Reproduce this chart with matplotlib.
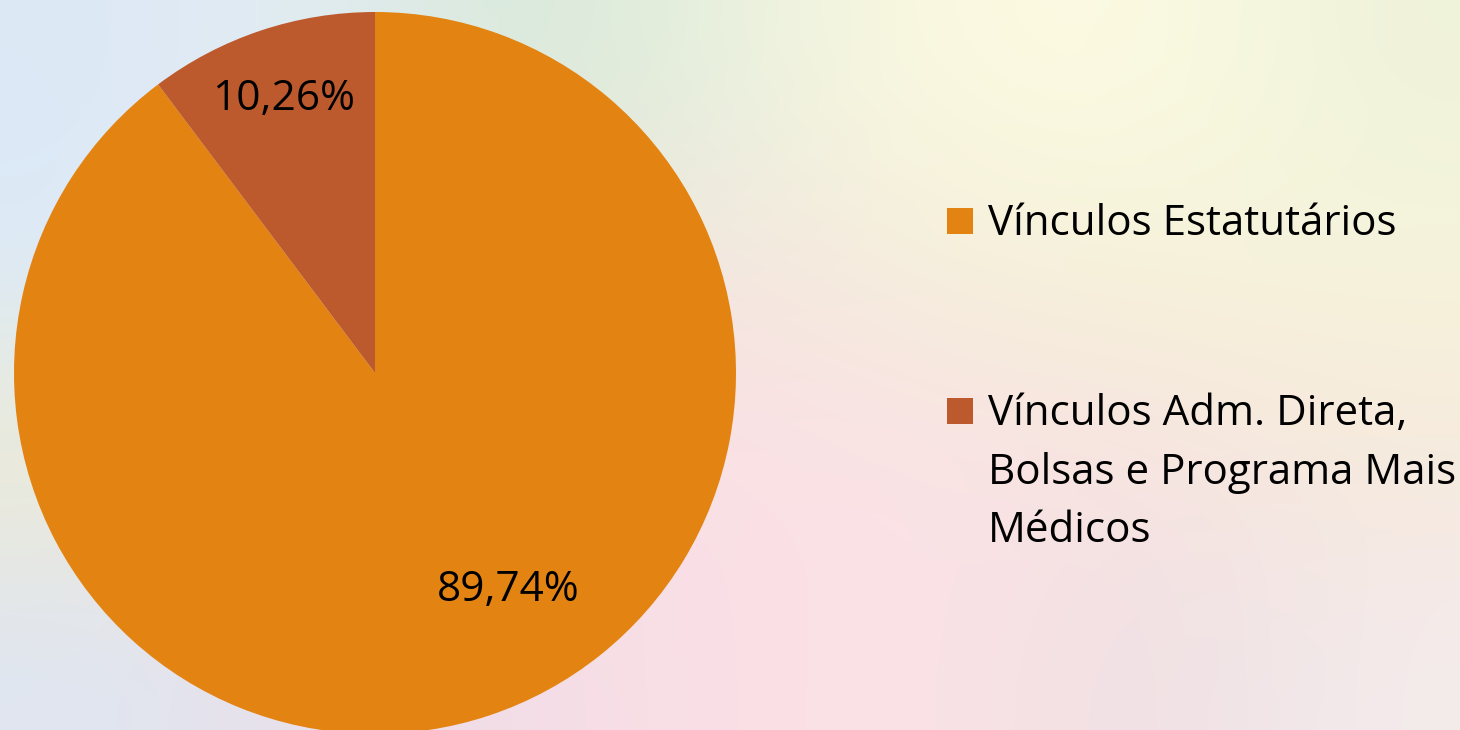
import numpy as np
import matplotlib
matplotlib.use('Agg')
import matplotlib.pyplot as plt
from matplotlib.colors import to_rgb
from matplotlib.patches import Rectangle

# Dados do gráfico
categorias = ['Vínculos Estatutários',
              'Vínculos Adm. Direta,\nBolsas e Programa Mais\nMédicos']
percentuais = [89.74, 10.26]
cores = ['#E38312', '#BD5A2D']

# Fundo desfocado (aproximação da foto do slide)
fundo = [
    ['#dde8f6', '#e3edf3', '#d6e8d8', '#e9f1df', '#fdf9e0', '#fcfbe3', '#eff3da'],
    ['#dbeaf8', '#e6ecec', '#eee6dc', '#f6e6e0', '#f3efda', '#f5f2d8', '#f7f4dc'],
    ['#efebd2', '#ece4e0', '#f6e0e4', '#fbe0e5', '#fbe2e6', '#f8e3e0', '#f6e9dc'],
    ['#dfe6f2', '#e9e0ea', '#f4dce6', '#fbe0e6', '#fbe3e6', '#eedfe3', '#f4ebec'],
]

plt.rcParams['font.family'] = ['Open Sans', 'DejaVu Sans']

W, H = 1460, 730
fig = plt.figure(figsize=(W / 100, H / 100), dpi=100)

bg = fig.add_axes([0, 0, 1, 1])
img = np.array([[to_rgb(c) for c in linha] for linha in fundo])
bg.imshow(img, aspect='auto', interpolation='bicubic', extent=[0, 1, 0, 1])
bg.set_axis_off()

ax = fig.add_axes([14 / W, -4 / H, 722 / W, 722 / H])
fatias, textos, autotextos = ax.pie(
    percentuais, colors=cores, startangle=90, counterclock=False,
    autopct=lambda p: f'{p:.2f}%'.replace('.', ','), pctdistance=0.8,
    wedgeprops=dict(linewidth=0), textprops=dict(fontsize=30.5, color='black'))
# rótulo da fatia maior posicionado como no original
autotextos[0].set_position((0.37, -0.60))
ax.set_xlim(-1, 1)
ax.set_ylim(-1, 1)
ax.set_aspect('equal')
ax.set_axis_off()

# legenda desenhada à mão (linhas quebradas como no slide)
topo_item = [221, 411]   # centro vertical do marcador de cada item (px)
passo = 58.5
for cor, rotulo, yc in zip(cores, categorias, topo_item):
    fig.add_artist(Rectangle((947 / W, 1 - (yc + 13) / H), 26 / W, 26 / H,
                             transform=fig.transFigure, facecolor=cor,
                             edgecolor='none'))
    for i, linha in enumerate(rotulo.split('\n')):
        fig.text(988 / W, 1 - (yc + 14 + i * passo) / H, linha, fontsize=30.3,
                 color='black', ha='left', va='baseline')

fig.savefig('out.png', dpi=100)
